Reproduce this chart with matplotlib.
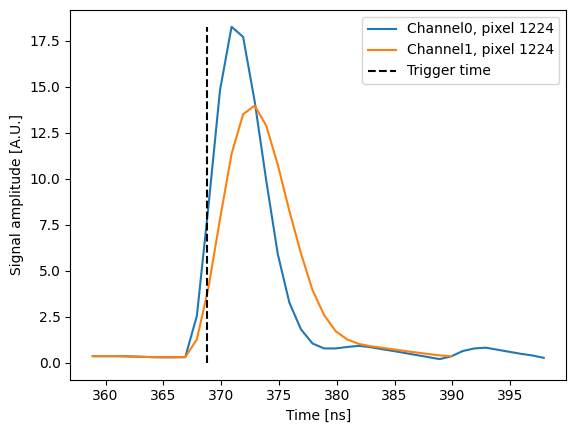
import numpy as np
import matplotlib
matplotlib.use('Agg')
import matplotlib.pyplot as plt

# time axis (1 ns sampling)
time_ch0 = np.arange(40) * 1.0 + 358.9
time_ch1 = time_ch0[:32]
trigger_time = 368.8

signal_ch0 = [0.36, 0.36, 0.36, 0.35, 0.33, 0.31, 0.30, 0.30, 0.31, 2.55,
              8.5, 14.8, 18.25, 17.7, 14.2, 9.9, 5.9, 3.27, 1.82, 1.05,
              0.78, 0.78, 0.86, 0.92, 0.85, 0.74, 0.64, 0.53, 0.42, 0.31,
              0.20, 0.35, 0.64, 0.78, 0.82, 0.71, 0.60, 0.49, 0.40, 0.27]
signal_ch1 = [0.36, 0.36, 0.36, 0.35, 0.33, 0.31, 0.30, 0.30, 0.31, 1.27,
              4.08, 7.8, 11.34, 13.5, 13.97, 12.88, 10.75, 8.25, 5.95, 3.95,
              2.6, 1.72, 1.27, 1.03, 0.9, 0.82, 0.73, 0.64, 0.56, 0.48,
              0.40, 0.36]

fig = plt.figure(figsize=(5.76, 4.32), dpi=100)
ax = fig.add_axes([0.122, 0.1213, 0.8611, 0.8556])

ax.plot(time_ch0, signal_ch0, label='Channel0, pixel 1224')
ax.plot(time_ch1, signal_ch1, label='Channel1, pixel 1224')
ax.vlines(trigger_time, 0, max(signal_ch0), colors='k', linestyles='dashed', label='Trigger time')

ax.set_xlabel('Time [ns]')
ax.set_ylabel('Signal amplitude [A.U.]')
ax.legend()

fig.savefig('out.png', dpi=100)
